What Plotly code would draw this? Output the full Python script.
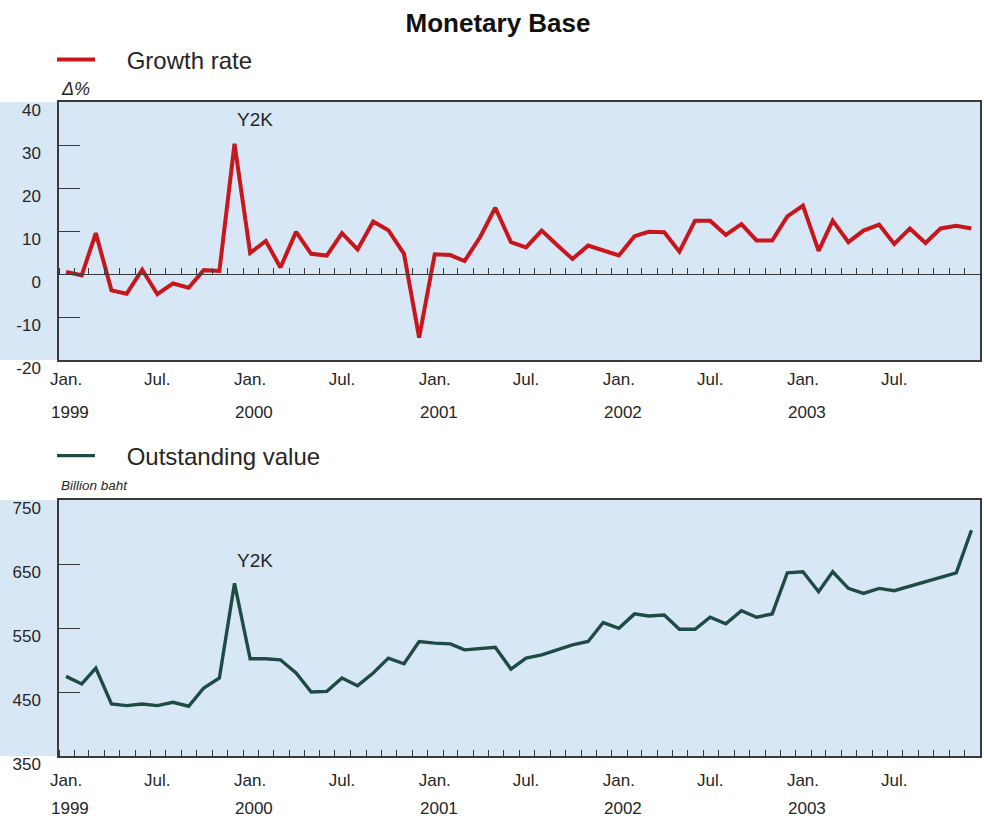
import plotly.graph_objects as go

# Monthly observations, Jan. 1999 - Dec. 2003
years = [1999, 2000, 2001, 2002, 2003]
months = [f"{y}-{m:02d}" for y in years for m in range(1, 13)]

# Monetary base growth rate (%)
growth_rate = [
    0.5, -0.3, 9.5, -3.8, -4.6, 1.0, -4.7, -2.2, -3.2, 0.9, 0.7, 30.3,
    4.9, 7.7, 1.5, 9.8, 4.7, 4.3, 9.5, 5.7, 12.2, 10.2, 4.7, -14.8,
    4.6, 4.4, 3.0, 8.6, 15.4, 7.4, 6.2, 10.1, 6.7, 3.5, 6.6, 5.4,
    4.3, 8.8, 9.8, 9.7, 5.2, 12.4, 12.4, 9.1, 11.6, 7.8, 7.8, 13.4,
    15.9, 5.4, 12.4, 7.4, 10.1, 11.5, 7.0, 10.6, 7.2, 10.6, 11.2, 10.6,
]

# Monetary base outstanding (billion baht)
outstanding = [
    474.4, 462.5, 487.4, 431.3, 428.7, 431.3, 428.7, 434.0, 427.7, 456.2, 471.8, 619.7,
    501.9, 501.9, 500.3, 479.6, 450.0, 451.0, 471.8, 459.9, 479.6, 502.9, 494.1, 528.9,
    526.3, 525.2, 515.9, 518.5, 520.0, 485.8, 502.9, 508.1, 515.9, 523.7, 528.9, 558.5,
    549.6, 572.0, 568.8, 570.4, 548.1, 548.1, 566.8, 556.4, 577.1, 566.8, 572.0, 636.3,
    637.9, 606.7, 637.9, 611.9, 604.1, 611.9, 608.3, 615.5, 622.3, 629.0, 636.3, 702.7,
]

# Axis labels
tick_months = [f"{y}-{m}" for y in years for m in ("01", "07")]
tick_text = ["Jan.", "Jul."] * len(years)
year_labels = [str(y) for y in years]
growth_ticks = [-20, -10, 0, 10, 20, 30, 40]
value_ticks = [350, 450, 550, 650, 750]
event_label = "Y2K"

W, H = 984, 821
mid = [m + "-15" for m in months]
bounds = [m + "-01" for m in months] + ["2004-01-01"]
tick_pos = [m + "-15" for m in tick_months]
x_range = ["1999-01-01", "2004-01-01"]

# Plot boxes in pixels
L, R = 59, 980
top_box = (102, 360)
bot_box = (500, 756)


def ydom(box):
    return [1 - box[1] / H, 1 - box[0] / H]


top_dom = ydom(top_box)
bot_dom = ydom(bot_box)
zero_pos = top_dom[0] + (top_dom[1] - top_dom[0]) * (0 - growth_ticks[0]) / (growth_ticks[-1] - growth_ticks[0])

RED = "#c8161d"
GREEN = "#1f4b45"
INK = "#262626"
BOX = "#3a3a3a"
PANEL = "#d8e7f6"
FONT = "Liberation Sans, Arial, sans-serif"

fig = go.Figure()

# visible series live on the month-tick axes (x, x4); the labelled
# box axes (x3, x2) get a transparent copy so they are drawn as well
fig.add_trace(go.Scatter(
    x=mid, y=growth_rate, xaxis="x", yaxis="y", mode="lines",
    line=dict(color=RED, width=4), name="\u00a0\u00a0\u00a0\u00a0Growth rate",
    legend="legend", hoverinfo="skip",
))
fig.add_trace(go.Scatter(
    x=mid, y=growth_rate, xaxis="x3", yaxis="y", mode="lines",
    line=dict(width=0), opacity=0, showlegend=False, hoverinfo="skip",
))
fig.add_trace(go.Scatter(
    x=mid, y=outstanding, xaxis="x4", yaxis="y2", mode="lines",
    line=dict(color=GREEN, width=3.4), name="\u00a0\u00a0\u00a0\u00a0Outstanding value",
    legend="legend2", hoverinfo="skip",
))
fig.add_trace(go.Scatter(
    x=mid, y=outstanding, xaxis="x2", yaxis="y2", mode="lines",
    line=dict(width=0), opacity=0, showlegend=False, hoverinfo="skip",
))

tick_font = dict(family=FONT, size=17, color=INK)

common_x = dict(type="date", range=x_range, showgrid=False, zeroline=False, automargin=False)
month_minor = dict(tickmode="array", tickvals=bounds, ticks="inside",
                   ticklen=6, tickwidth=1.3, tickcolor=BOX, showgrid=False)
common_y = dict(tickmode="array", ticks="inside", ticklen=21, tickwidth=1.3, tickcolor=BOX,
                showline=True, mirror=True, linecolor=BOX, linewidth=1.5,
                showgrid=False, zeroline=False, tickfont=tick_font, automargin=False,
                ticklabelstandoff=13, ticklabelshift=8)

fig.update_layout(
    width=W, height=H,
    margin=dict(l=L, r=W - R, t=0, b=0, autoexpand=False),
    paper_bgcolor="white",
    plot_bgcolor=PANEL,
    font=dict(family=FONT, color=INK),
    title=dict(text="<b>Monetary Base</b>", x=498 / W, xref="container", xanchor="center",
               y=1 - 23 / H, yref="container", yanchor="middle",
               font=dict(family=FONT, size=26, color="#111")),
    # upper panel: month ticks on the zero line
    xaxis=dict(**common_x, anchor="free", position=zero_pos, domain=[0, 1],
               showline=True, linecolor=BOX, linewidth=1.3,
               ticks="", showticklabels=False, minor=month_minor),
    # upper panel: labelled box edge
    xaxis3=dict(**common_x, overlaying="x", anchor="y", matches="x",
                showline=True, mirror=True, linecolor=BOX, linewidth=1.5,
                ticks="", tickmode="array", tickvals=tick_pos, ticktext=tick_text,
                tickfont=tick_font, ticklabelstandoff=3),
    yaxis=dict(**common_y, domain=top_dom, range=[growth_ticks[0], growth_ticks[-1]],
               tickvals=growth_ticks, ticktext=[str(v) for v in growth_ticks]),
    # lower panel: labelled box edge
    xaxis2=dict(**common_x, anchor="y2", domain=[0, 1],
                showline=True, mirror=True, linecolor=BOX, linewidth=1.5,
                ticks="", tickmode="array", tickvals=tick_pos, ticktext=tick_text,
                tickfont=tick_font, ticklabelstandoff=8),
    # lower panel: month ticks along the bottom edge
    xaxis4=dict(**common_x, overlaying="x2", anchor="y2", matches="x2",
                showline=False, ticks="", showticklabels=False, minor=month_minor),
    yaxis2=dict(**common_y, domain=bot_dom, range=[value_ticks[0], value_ticks[-1]],
                tickvals=value_ticks, ticktext=[str(v) for v in value_ticks]),
    legend=dict(x=(52 - L) / (R - L), xanchor="left", y=1 - 60 / H, yanchor="middle",
                bgcolor="rgba(0,0,0,0)", font=dict(family=FONT, size=24, color=INK),
                itemwidth=38),
    legend2=dict(x=(52 - L) / (R - L), xanchor="left", y=1 - 456 / H, yanchor="middle",
                 bgcolor="rgba(0,0,0,0)", font=dict(family=FONT, size=24, color=INK),
                 itemwidth=38),
    showlegend=True,
)

# light blue strip behind the value labels of each panel
for dom in (top_dom, bot_dom):
    fig.add_shape(type="rect", xref="paper", yref="paper", layer="below",
                  x0=-L / (R - L), x1=0, y0=dom[0], y1=dom[1],
                  fillcolor=PANEL, line=dict(width=0))

# unit captions
fig.add_annotation(text="<i>Δ%</i>", xref="paper", yref="paper", x=0, xanchor="left",
                   y=1 - 89 / H, yanchor="middle", showarrow=False,
                   font=dict(family=FONT, size=18, color=INK))
fig.add_annotation(text="<i>Billion baht</i>", xref="paper", yref="paper", x=0, xanchor="left",
                   y=1 - 486 / H, yanchor="middle", showarrow=False,
                   font=dict(family=FONT, size=13.5, color=INK))

# year labels under the January ticks
for yl in year_labels:
    for ypx in (412, 808):
        fig.add_annotation(text=yl, xref="x2", yref="paper", x=f"{yl}-01-15", xshift=4,
                           y=1 - ypx / H, yanchor="middle", showarrow=False,
                           font=tick_font)

# event marker at the Dec. 1999 peak of each series
peak = months.index("1999-12")
fig.add_annotation(text=event_label, xref="x", yref="y", x=mid[peak], y=growth_rate[peak],
                   xanchor="left", yanchor="bottom", yshift=12, showarrow=False,
                   font=dict(family=FONT, size=19, color=INK))
fig.add_annotation(text=event_label, xref="x2", yref="y2", x=mid[peak], y=outstanding[peak],
                   xanchor="left", yanchor="bottom", yshift=10, showarrow=False,
                   font=dict(family=FONT, size=19, color=INK))

fig.write_html("out.html")
